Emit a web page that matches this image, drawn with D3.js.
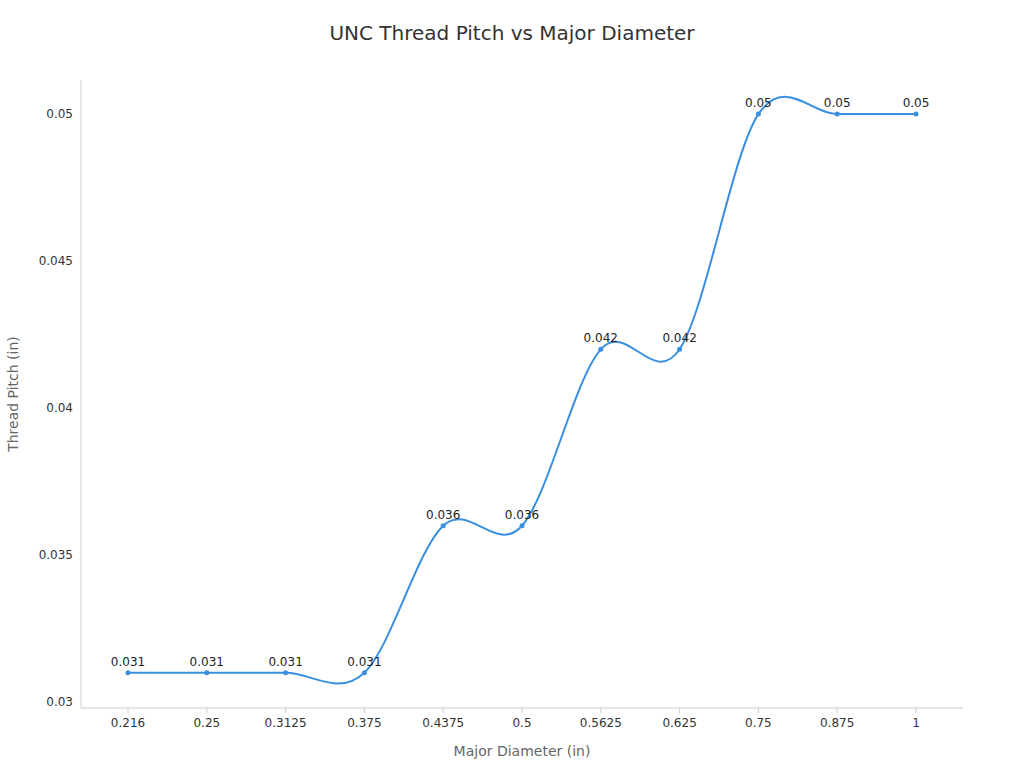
<!DOCTYPE html>
<html><head><meta charset="utf-8">
<script src="https://cdn.jsdelivr.net/npm/d3@7"></script>
<style>body{margin:0;background:#fff;font-family:"DejaVu Sans",sans-serif}</style>
</head><body><svg id="c" width="1024" height="768"></svg>
<script>
const categories=["0.216","0.25","0.3125","0.375","0.4375","0.5","0.5625","0.625","0.75","0.875","1"];
const pitch=[0.031,0.031,0.031,0.031,0.036,0.036,0.042,0.042,0.05,0.05,0.05];
const yTicks=[0.03,0.035,0.04,0.045,0.05];
const svg=d3.select("#c");
const x=d3.scalePoint().domain(categories).range([128,916]);
const y=d3.scaleLinear().domain([0.0298,0.05116]).range([708,80]);
svg.append("text").attr("x",512).attr("y",40).attr("text-anchor","middle").attr("font-size",20).attr("fill","#333").text("UNC Thread Pitch vs Major Diameter");
svg.append("line").attr("x1",81).attr("x2",81).attr("y1",80).attr("y2",708).attr("stroke","#ccc");
svg.append("line").attr("x1",81).attr("x2",963).attr("y1",708).attr("y2",708).attr("stroke","#ccc");
yTicks.forEach(t=>svg.append("text").attr("x",73).attr("y",y(t)+4).attr("text-anchor","end").attr("font-size",12).attr("fill","#333").text(t));
categories.forEach(c=>{
 svg.append("line").attr("x1",x(c)).attr("x2",x(c)).attr("y1",708).attr("y2",713).attr("stroke","#ccc");
 svg.append("text").attr("x",x(c)).attr("y",727).attr("text-anchor","middle").attr("font-size",12).attr("fill","#333").text(c);
});
svg.append("text").attr("x",522).attr("y",756).attr("text-anchor","middle").attr("font-size",14).attr("fill","#666").text("Major Diameter (in)");
svg.append("text").attr("transform","translate(18,394) rotate(-90)").attr("text-anchor","middle").attr("font-size",14).attr("fill","#666").text("Thread Pitch (in)");
const data=categories.map((c,i)=>({c,v:pitch[i]}));
svg.append("path").datum(data).attr("fill","none").attr("stroke","#3a8fe0").attr("stroke-width",2)
 .attr("d",d3.line().x(d=>x(d.c)).y(d=>y(d.v)).curve(d3.curveCardinal.tension(0)));
svg.selectAll("circle").data(data).join("circle").attr("cx",d=>x(d.c)).attr("cy",d=>y(d.v)).attr("r",2.5).attr("fill","#3a8fe0");
svg.selectAll("text.l").data(data).join("text").attr("class","l").attr("x",d=>x(d.c)).attr("y",d=>y(d.v)-7).attr("text-anchor","middle").attr("font-size",12).attr("fill","#222").text(d=>d.v);
</script></body></html>
